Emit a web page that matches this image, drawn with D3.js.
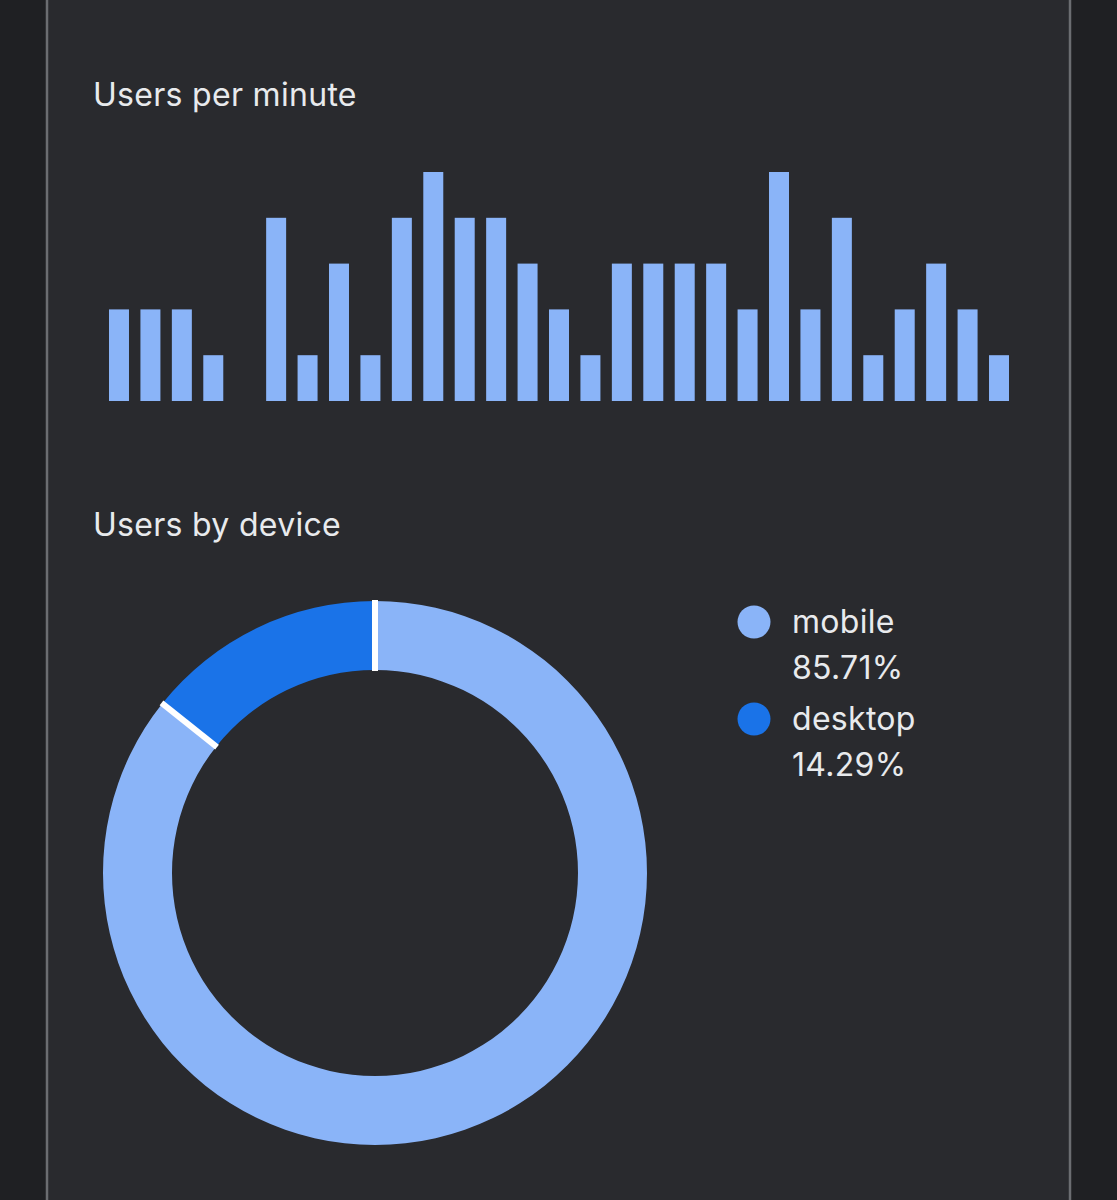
<!DOCTYPE html>
<html>
<head>
<meta charset="utf-8">
<script src="https://cdn.jsdelivr.net/npm/d3@7.9.0/dist/d3.min.js"></script>
<style>
  html, body { margin: 0; padding: 0; background: #1f2023; }
  svg { display: block; }
  text { font-family: Inter, "Noto Sans", sans-serif; fill: #e8eaed; }
</style>
</head>
<body>
<svg id="chart" width="1117" height="1200"></svg>
<script>
// users per minute, one bar per minute (last 29 minutes)
const minutes = d3.range(1, 30);
const usersPerMinute = [2, 2, 2, 1, 0, 4, 1, 3, 1, 4, 5, 4, 4, 3, 2, 1, 3, 3, 3, 3, 2, 5, 2, 4, 1, 2, 3, 2, 1];

// users by device
const devices = ['mobile', 'desktop'];
const deviceShares = [85.71, 14.29];
const deviceColors = ['#8ab4f8', '#1a73e8'];

const svg = d3.select('#chart');

// card
svg.append('rect')
    .attr('x', 47).attr('y', -10)
    .attr('width', 1023).attr('height', 1220)
    .attr('fill', '#292a2e')
    .attr('stroke', '#6b6d71')
    .attr('stroke-width', 2.5);

// --- bar chart ---
svg.append('text')
    .attr('x', 93).attr('y', 106)
    .attr('font-size', 32)
    .attr('letter-spacing', 0.3)
    .text('Users per minute');

const x = d3.scaleBand()
    .domain(minutes)
    .range([109, 1009])
    .paddingInner(0.364)
    .paddingOuter(0);

const y = d3.scaleLinear()
    .domain([0, 5])
    .range([401, 172]);

svg.append('g')
    .selectAll('rect')
    .data(usersPerMinute)
    .join('rect')
    .attr('x', (d, i) => x(minutes[i]))
    .attr('y', d => y(d))
    .attr('width', x.bandwidth())
    .attr('height', d => y(0) - y(d))
    .attr('fill', '#8ab4f8');

// --- donut ---
svg.append('text')
    .attr('x', 93).attr('y', 536)
    .attr('font-size', 32)
    .attr('letter-spacing', 0.3)
    .text('Users by device');

const pieData = d3.pie().sort(null).value(d => d)(deviceShares);
const arc = d3.arc().innerRadius(203).outerRadius(272);

const donut = svg.append('g').attr('transform', 'translate(375,873)');

donut.selectAll('path')
    .data(pieData)
    .join('path')
    .attr('d', arc)
    .attr('fill', (d, i) => deviceColors[i]);

// white separators at slice boundaries
donut.selectAll('line')
    .data(pieData)
    .join('line')
    .attr('x1', d => Math.sin(d.startAngle) * 202)
    .attr('y1', d => -Math.cos(d.startAngle) * 202)
    .attr('x2', d => Math.sin(d.startAngle) * 273)
    .attr('y2', d => -Math.cos(d.startAngle) * 273)
    .attr('stroke', '#ffffff')
    .attr('stroke-width', 6);

// legend
const legend = svg.append('g');
devices.forEach((name, i) => {
    const top = 622 + i * 97;
    legend.append('circle')
        .attr('cx', 754).attr('cy', top)
        .attr('r', 16.5)
        .attr('fill', deviceColors[i]);
    legend.append('text')
        .attr('x', 792).attr('y', top + 11)
        .attr('font-size', 32)
        .attr('letter-spacing', 0.3)
        .text(name);
    legend.append('text')
        .attr('x', 792).attr('y', top + 57)
        .attr('font-size', 32)
        .attr('letter-spacing', 0.3)
        .text(d3.format('.2f')(deviceShares[i]) + '%');
});
</script>
</body>
</html>
